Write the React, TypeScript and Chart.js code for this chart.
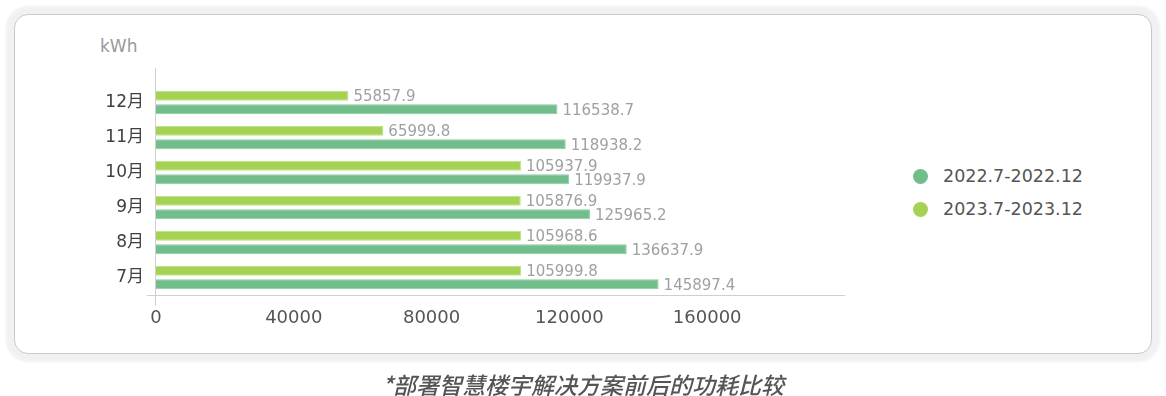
import React, { useEffect, useRef } from 'react';
import { Chart, registerables } from 'chart.js';

Chart.register(...registerables);

// Months, top to bottom
const months = ['12月', '11月', '10月', '9月', '8月', '7月'];
const seriesNames = ['2022.7-2022.12', '2023.7-2023.12'];
// Energy use per month, kWh
const usage2022 = [116538.7, 118938.2, 119937.9, 125965.2, 136637.9, 145897.4];
const usage2023 = [55857.9, 65999.8, 105937.9, 105876.9, 105968.6, 105999.8];
const xTicks = [0, 40000, 80000, 120000, 160000];
const axisMax = 200000;
const unitLabel = 'kWh';
const caption = '*部署智慧楼宇解决方案前后的功耗比较';

const seriesColors = ['#71bd8b', '#a5d252'];
const seriesEdges = ['#8ccba2', '#bfe08a'];
const numFont = "'DejaVu Sans', 'Noto Sans CJK SC', sans-serif";

// Axis lines that run a little past the corner where they meet
const axisLines = {
  id: 'axisLines',
  beforeDatasetsDraw(chart: any) {
    const { ctx, chartArea } = chart;
    const { left, right, top, bottom } = chartArea;
    ctx.save();
    ctx.strokeStyle = '#cfcfcf';
    ctx.lineWidth = 1;
    ctx.beginPath();
    ctx.moveTo(left - 0.5, top - 17);
    ctx.lineTo(left - 0.5, bottom + 11);
    ctx.moveTo(left - 9, bottom + 0.5);
    ctx.lineTo(right, bottom + 0.5);
    ctx.stroke();
    ctx.restore();
  },
};

// Value printed just past the end of each bar
const valueLabels = {
  id: 'valueLabels',
  afterDatasetsDraw(chart: any) {
    const { ctx } = chart;
    ctx.save();
    ctx.font = `15px ${numFont}`;
    ctx.fillStyle = '#a0a0a0';
    ctx.textAlign = 'left';
    ctx.textBaseline = 'middle';
    chart.data.datasets.forEach((ds: any, i: number) => {
      chart.getDatasetMeta(i).data.forEach((bar: any, j: number) => {
        ctx.fillText(Number(ds.data[j]).toFixed(1), bar.x + 5, bar.y + 1.5);
      });
    });
    ctx.restore();
  },
};

function EnergyChart() {
  const canvasRef = useRef<HTMLCanvasElement>(null);

  useEffect(() => {
    if (!canvasRef.current) return;
    const chart = new Chart(canvasRef.current, {
      type: 'bar',
      data: {
        labels: months,
        datasets: [
          {
            label: seriesNames[1],
            data: usage2023,
            backgroundColor: seriesColors[1],
            borderColor: seriesEdges[1],
            borderWidth: 1,
          },
          {
            label: seriesNames[0],
            data: usage2022,
            backgroundColor: seriesColors[0],
            borderColor: seriesEdges[0],
            borderWidth: 1,
          },
        ],
      },
      options: {
        indexAxis: 'y',
        responsive: false,
        animation: false,
        layout: { padding: { left: 96, right: 321, top: 85, bottom: 61 } },
        datasets: { bar: { categoryPercentage: 0.77, barPercentage: 0.74 } },
        plugins: { legend: { display: false }, tooltip: { enabled: false } },
        scales: {
          x: {
            type: 'linear',
            min: 0,
            max: axisMax,
            afterBuildTicks: (s: any) => {
              s.ticks = xTicks.map((v) => ({ value: v }));
            },
            afterFit: (s: any) => {
              s.height = 40;
            },
            grid: { display: false, drawTicks: false },
            border: { display: false },
            ticks: {
              autoSkip: false,
              maxRotation: 0,
              padding: 13,
              color: '#555',
              font: { family: numFont, size: 18 },
              callback: (v: any) => String(v),
            },
          },
          y: {
            afterFit: (s: any) => {
              s.width = 60;
            },
            grid: { display: false, drawTicks: false },
            border: { display: false },
            ticks: {
              padding: 12,
              color: '#404040',
              font: { family: numFont, size: 17 },
            },
          },
        },
      } as any,
      plugins: [axisLines, valueLabels],
    });
    return () => chart.destroy();
  }, []);

  return (
    <canvas
      ref={canvasRef}
      width={1166}
      height={396}
      style={{ position: 'absolute', left: 0, top: 0, width: 1166, height: 396 }}
    />
  );
}

export default function App() {
  return (
    <div
      style={{
        position: 'absolute',
        left: 0,
        top: 0,
        width: 1166,
        height: 396,
        background: '#fff',
        overflow: 'hidden',
        fontFamily: numFont,
      }}
    >
      <div
        style={{
          position: 'absolute',
          left: 14,
          top: 14,
          width: 1138,
          height: 340,
          boxSizing: 'border-box',
          border: '1px solid #c9c9c9',
          borderRadius: 14,
          boxShadow: '0 0 3px 8px #f1f1f1',
          background: '#fff',
        }}
      />
      <div
        style={{
          position: 'absolute',
          left: 100,
          top: 38,
          fontSize: 17,
          lineHeight: '17px',
          color: '#999',
        }}
      >
        {unitLabel}
      </div>
      {[0, 1].map((i) => (
        <div
          key={seriesNames[i]}
          style={{
            position: 'absolute',
            left: 913,
            top: 166 + i * 33,
            height: 20,
            display: 'flex',
            alignItems: 'center',
          }}
        >
          <span
            style={{
              width: 15,
              height: 15,
              borderRadius: '50%',
              background: seriesColors[i],
              display: 'inline-block',
            }}
          />
          <span
            style={{
              marginLeft: 15,
              fontSize: 17.5,
              lineHeight: '20px',
              color: '#555',
              whiteSpace: 'nowrap',
            }}
          >
            {seriesNames[i]}
          </span>
        </div>
      ))}
      <EnergyChart />
      <div
        style={{
          position: 'absolute',
          left: 0,
          top: 369,
          width: 1166,
          textAlign: 'center',
          fontSize: 23,
          lineHeight: '30px',
          fontStyle: 'italic',
          fontWeight: 500,
          color: '#555',
          fontFamily: "'Noto Sans CJK SC', sans-serif",
        }}
      >
        {caption}
      </div>
    </div>
  );
}
